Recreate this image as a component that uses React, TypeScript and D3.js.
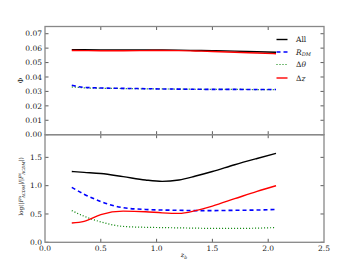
import React from "react";
import * as d3 from "d3";

const zTop = [0.24, 0.35, 0.5, 0.7, 0.9, 1.05, 1.2, 1.35, 1.5, 1.7, 1.9, 2.07];
const phiAll = [0.0590, 0.0589, 0.0588, 0.0587, 0.0587, 0.0587, 0.0586, 0.0584, 0.0582, 0.0579, 0.0575, 0.0572];
const phiRdm = [0.0343, 0.0328, 0.0324, 0.0321, 0.0319, 0.0317, 0.0316, 0.0315, 0.0314, 0.0314, 0.0313, 0.0313];
const phiDtheta = [0.0331, 0.0325, 0.0322, 0.0320, 0.0318, 0.0317, 0.0316, 0.0315, 0.0314, 0.0314, 0.0313, 0.0313];
const phiDz = [0.0584, 0.0583, 0.0582, 0.0582, 0.0583, 0.0584, 0.0583, 0.0580, 0.0577, 0.0572, 0.0566, 0.0561];

const zBot = [0.24, 0.35, 0.5, 0.7, 0.9, 1.05, 1.2, 1.35, 1.5, 1.7, 1.9, 2.07];
const logAll = [1.25, 1.235, 1.215, 1.16, 1.10, 1.075, 1.10, 1.17, 1.25, 1.37, 1.48, 1.57];
const logRdm = [0.97, 0.85, 0.72, 0.61, 0.58, 0.57, 0.565, 0.56, 0.56, 0.565, 0.57, 0.58];
const logDtheta = [0.56, 0.46, 0.36, 0.28, 0.265, 0.26, 0.255, 0.25, 0.245, 0.245, 0.25, 0.26];
const logDz = [0.34, 0.37, 0.49, 0.55, 0.54, 0.52, 0.51, 0.56, 0.64, 0.77, 0.90, 1.00];

const xTicks = [0.0, 0.5, 1.0, 1.5, 2.0, 2.5];
const yTopTicks = [0, 0.01, 0.02, 0.03, 0.04, 0.05, 0.06, 0.07];
const yBotTicks = [0.0, 0.5, 1.0, 1.5];

const L = 45, R = 324, T = 26.5, M = 134.7, B = 242.3;
const FONT = "DejaVu Serif";
const SPINE = "#888888";

export default function App() {
  const x = d3.scaleLinear().domain([0, 2.5]).range([L, R]);
  const yT = d3.scaleLinear().domain([0, 0.075]).range([M, T]);
  const yB = d3.scaleLinear().domain([0, 1.9]).range([B, M]);
  const mk = (ys: number[], zs: number[], sy: d3.ScaleLinear<number, number>) =>
    d3.line<number>().x((_, i) => x(zs[i])).y((v) => sy(v)).curve(d3.curveMonotoneX)(ys) || "";

  const series = [
    { top: phiDtheta, bot: logDtheta, color: "#008000", w: 1.2, dash: "1,2" },
    { top: phiRdm, bot: logRdm, color: "#0000ff", w: 1.6, dash: "4,3" },
    { top: phiAll, bot: logAll, color: "#000000", w: 1.4, dash: "" },
    { top: phiDz, bot: logDz, color: "#ff0000", w: 1.4, dash: "" },
  ];

  const tick = 3.5;
  const panelTicks = (top: number, bot: number, yt: number[], sy: d3.ScaleLinear<number, number>) => (
    <g stroke="#333" strokeWidth={0.8}>
      {xTicks.slice(1, -1).map((t) => (
        <g key={"x" + t}>
          <line x1={x(t)} x2={x(t)} y1={bot} y2={bot - tick} />
          <line x1={x(t)} x2={x(t)} y1={top} y2={top + tick} />
        </g>
      ))}
      {yt.map((t) => (
        <g key={"y" + t}>
          <line x1={L} x2={L + tick} y1={sy(t)} y2={sy(t)} />
          <line x1={R} x2={R - tick} y1={sy(t)} y2={sy(t)} />
        </g>
      ))}
    </g>
  );

  const legend = [
    { label: "All", color: "#000", dash: "", w: 1.4 },
    { label: "", itR: "R", sub: "DM", color: "#0000ff", dash: "4,3", w: 1.6 },
    { label: "Δ", it: "θ", color: "#008000", dash: "1,2", w: 1.2 },
    { label: "Δ", it: "z", color: "#ff0000", dash: "", w: 1.4 },
  ];
  const legY = [39.5, 52, 64.5, 78];

  return (
    <svg width={360} height={270} style={{ position: "absolute", left: 0, top: 0 }} fontFamily={FONT}>
      <rect width={360} height={270} fill="#fff" />
      {series.map((s, i) => (
        <path key={"t" + i} d={mk(s.top, zTop, yT)} fill="none" stroke={s.color} strokeWidth={s.w} strokeDasharray={s.dash || undefined} />
      ))}
      {series.map((s, i) => (
        <path key={"b" + i} d={mk(s.bot, zBot, yB)} fill="none" stroke={s.color} strokeWidth={s.w} strokeDasharray={s.dash || undefined} />
      ))}
      {panelTicks(T, M, yTopTicks, yT)}
      {panelTicks(M, B, yBotTicks, yB)}
      <rect x={L} y={T} width={R - L} height={M - T} fill="none" stroke={SPINE} strokeWidth={1.3} />
      <rect x={L} y={M} width={R - L} height={B - M} fill="none" stroke={SPINE} strokeWidth={1.3} />
      <g fontSize={7.5} fill="#222" textAnchor="end">
        {yTopTicks.map((t) => (
          <text key={t} x={L - 3} y={yT(t) + 2.7}>{t.toFixed(2)}</text>
        ))}
        {yBotTicks.map((t) => (
          <text key={t} x={L - 3} y={yB(t) + 2.7}>{t.toFixed(1)}</text>
        ))}
      </g>
      <g fontSize={7.5} fill="#222" textAnchor="middle">
        {xTicks.map((t) => (
          <text key={t} x={x(t)} y={B + 8.5}>{t.toFixed(1)}</text>
        ))}
      </g>
      <text x={184} y={257} fontSize={6.5} fontStyle="italic" textAnchor="middle" fill="#222">
        z<tspan fontSize={4.5} dy={1.5}>b</tspan>
      </text>
      <text transform={`translate(23,${(T + M) / 2}) rotate(-90)`} fontSize={7} textAnchor="middle" fill="#222">Φ</text>
      <text transform={`translate(23,${(M + B) / 2 - 2}) rotate(-90)`} fontSize={5.8} textAnchor="middle" fill="#222">
        log(|<tspan fontStyle="italic">F</tspan>
        <tspan fontSize={4} dy={-2.5}>a</tspan>
        <tspan fontSize={4} dx={-2} dy={4.5} fontStyle="italic">ΛCDM</tspan>
        <tspan dy={-2}>|/|</tspan>
        <tspan fontStyle="italic">F</tspan>
        <tspan fontSize={4} dy={-2.5}>c</tspan>
        <tspan fontSize={4} dx={-2} dy={4.5} fontStyle="italic">ΛCDM</tspan>
        <tspan dy={-2}>|)</tspan>
      </text>
      {legend.map((l, i) => (
        <g key={"leg" + i}>
          <line x1={276.5} x2={287.5} y1={legY[i]} y2={legY[i]} stroke={l.color} strokeWidth={l.w} strokeDasharray={l.dash || undefined} />
          <text x={296} y={legY[i] + 2.8} fontSize={7.5} fill="#222">
            {l.label}
            {l.itR ? <tspan fontStyle="italic">{l.itR}</tspan> : null}
            {l.sub ? <tspan fontSize={5} dy={1.5} fontStyle="italic">{l.sub}</tspan> : null}
            {l.it ? <tspan fontStyle="italic">{l.it}</tspan> : null}
          </text>
        </g>
      ))}
    </svg>
  );
}
